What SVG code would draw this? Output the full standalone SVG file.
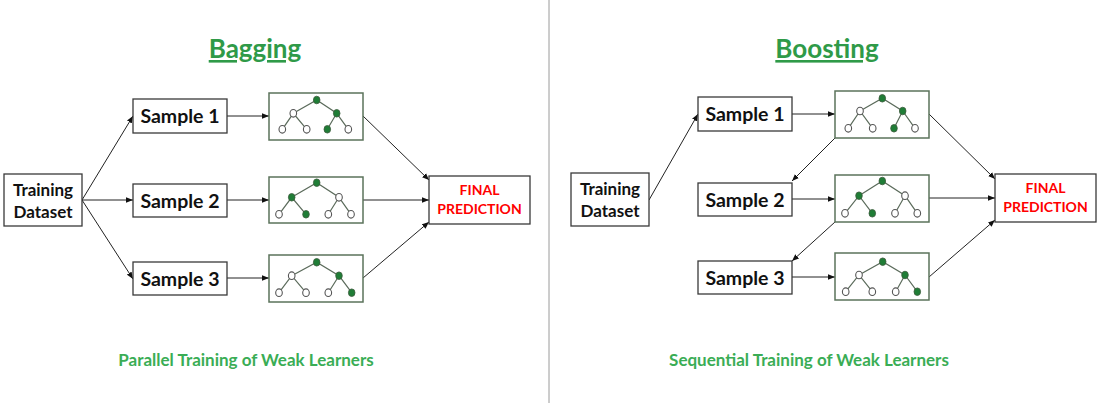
<svg xmlns="http://www.w3.org/2000/svg" width="1100" height="403" viewBox="0 0 1100 403">
<style>
.box{fill:#fff;stroke:#3a3a3a;stroke-width:1.3}
.tbox{fill:#fff;stroke:#5b735b;stroke-width:1.5}
.lbl{font-family:Lato,"Open Sans",sans-serif;font-weight:bold;fill:#111;text-anchor:middle}
.title{font-family:Lato,"Open Sans",sans-serif;font-weight:bold;fill:#2f9a48;font-size:26px;text-anchor:middle;text-decoration:underline}
.sub{font-family:Lato,"Open Sans",sans-serif;font-weight:bold;fill:#3aad55;font-size:17px;text-anchor:middle}
.fin{font-family:Lato,"Open Sans",sans-serif;font-weight:bold;fill:#ff0000;font-size:14px;text-anchor:middle}
.edge{stroke:#222;stroke-width:1;fill:none;marker-end:url(#ah)}
.tl{stroke:#5b6b5b;stroke-width:1.2;fill:none}
.g{fill:#1f7d36;stroke:#3c5a3c;stroke-width:0.8}
.w{fill:#fff;stroke:#555;stroke-width:1.1}
</style>
<defs>
<marker id="ah" viewBox="0 0 10 10" refX="10" refY="5" markerWidth="7" markerHeight="7" orient="auto" markerUnits="userSpaceOnUse">
<path d="M0,1 L10,5 L0,9 z" fill="#111"/>
</marker>
</defs>
<rect width="1100" height="403" fill="#fff"/>
<line x1="549" y1="0" x2="549" y2="403" stroke="#9a9a9a" stroke-width="1"/>

<g id="titles">
<text class="title" x="255" y="58">Bagging</text>
<text class="title" x="827" y="58">Boosting</text>
<text class="sub" x="246" y="366">Parallel Training of Weak Learners</text>
<text class="sub" x="809" y="366">Sequential Training of Weak Learners</text>
</g>

<g id="connectors">
<line class="edge" x1="82" y1="200" x2="133" y2="116"/>
<line class="edge" x1="82" y1="200" x2="133" y2="200"/>
<line class="edge" x1="82" y1="200" x2="133" y2="279"/>
<line class="edge" x1="227" y1="116" x2="269" y2="116"/>
<line class="edge" x1="227" y1="200" x2="269" y2="200"/>
<line class="edge" x1="227" y1="278" x2="269" y2="278"/>
<line class="edge" x1="363" y1="116" x2="429" y2="180"/>
<line class="edge" x1="363" y1="200" x2="429" y2="200"/>
<line class="edge" x1="363" y1="278" x2="429" y2="222"/>

<line class="edge" x1="649" y1="200" x2="698" y2="114"/>
<line class="edge" x1="792" y1="114" x2="835" y2="114"/>
<line class="edge" x1="792" y1="199" x2="835" y2="199"/>
<line class="edge" x1="792" y1="277" x2="835" y2="277"/>
<line class="edge" x1="835" y1="138" x2="792" y2="181"/>
<line class="edge" x1="835" y1="222" x2="792" y2="261"/>
<line class="edge" x1="929" y1="114" x2="995" y2="179"/>
<line class="edge" x1="929" y1="198" x2="995" y2="198"/>
<line class="edge" x1="929" y1="277" x2="995" y2="220"/>
</g>

<g id="bag-training">
<rect class="box" x="4" y="174" width="78" height="52"/>
<text class="lbl" x="43" y="196" font-size="17">Training</text>
<text class="lbl" x="43" y="218" font-size="17">Dataset</text>
</g>
<g id="bag-sample1"><rect class="box" x="133" y="99" width="94" height="34"/><text class="lbl" x="180" y="123" font-size="19.5">Sample 1</text></g>
<g id="bag-sample2"><rect class="box" x="133" y="184" width="94" height="33"/><text class="lbl" x="180" y="207.5" font-size="19.5">Sample 2</text></g>
<g id="bag-sample3"><rect class="box" x="133" y="262" width="94" height="33"/><text class="lbl" x="180" y="285.5" font-size="19.5">Sample 3</text></g>

<g id="bag-tree1">
<rect class="tbox" x="269" y="93" width="94" height="47"/>
<path class="tl" d="M282.3,129.3 L293.3,113.3 L306.7,129.3 M293.3,113.3 L316.7,100 L336.7,113.3 L327.3,129.3 M336.7,113.3 L348.3,129.3"/>
<ellipse class="g" cx="316.7" cy="100" rx="3.3" ry="3.8"/>
<ellipse class="w" cx="293.3" cy="113.3" rx="3.3" ry="3.8"/>
<ellipse class="g" cx="336.7" cy="113.3" rx="3.3" ry="3.8"/>
<ellipse class="w" cx="282.3" cy="129.3" rx="3.3" ry="3.8"/>
<ellipse class="w" cx="306.7" cy="129.3" rx="3.3" ry="3.8"/>
<ellipse class="g" cx="327.3" cy="129.3" rx="3.3" ry="3.8"/>
<ellipse class="w" cx="348.3" cy="129.3" rx="3.3" ry="3.8"/>
</g>
<g id="bag-tree2">
<rect class="tbox" x="269" y="177" width="94" height="46"/>
<path class="tl" d="M279,214.3 L291.7,197.3 L306,214.3 M291.7,197.3 L316.7,182.7 L339,197.3 L328.3,214.3 M339,197.3 L351,214.3"/>
<ellipse class="g" cx="316.7" cy="182.7" rx="3.3" ry="3.8"/>
<ellipse class="g" cx="291.7" cy="197.3" rx="3.3" ry="3.8"/>
<ellipse class="w" cx="339" cy="197.3" rx="3.3" ry="3.8"/>
<ellipse class="w" cx="279" cy="214.3" rx="3.3" ry="3.8"/>
<ellipse class="g" cx="306" cy="214.3" rx="3.3" ry="3.8"/>
<ellipse class="w" cx="328.3" cy="214.3" rx="3.3" ry="3.8"/>
<ellipse class="w" cx="351" cy="214.3" rx="3.3" ry="3.8"/>
</g>
<g id="bag-tree3">
<rect class="tbox" x="269" y="255" width="94" height="47"/>
<path class="tl" d="M279,292.7 L291.7,275.7 L306,292.7 M291.7,275.7 L316.7,262.3 L339,275.7 L328.3,292.7 M339,275.7 L351.7,292.7"/>
<ellipse class="g" cx="316.7" cy="262.3" rx="3.3" ry="3.8"/>
<ellipse class="w" cx="291.7" cy="275.7" rx="3.3" ry="3.8"/>
<ellipse class="g" cx="339" cy="275.7" rx="3.3" ry="3.8"/>
<ellipse class="w" cx="279" cy="292.7" rx="3.3" ry="3.8"/>
<ellipse class="w" cx="306" cy="292.7" rx="3.3" ry="3.8"/>
<ellipse class="w" cx="328.3" cy="292.7" rx="3.3" ry="3.8"/>
<ellipse class="g" cx="351.7" cy="292.7" rx="3.3" ry="3.8"/>
</g>
<g id="bag-final">
<rect class="box" x="429" y="176" width="101" height="48"/>
<text class="fin" x="479.5" y="195">FINAL</text>
<text class="fin" x="479.5" y="214">PREDICTION</text>
</g>

<g id="boost-training">
<rect class="box" x="571" y="173" width="78" height="53"/>
<text class="lbl" x="610" y="195" font-size="17">Training</text>
<text class="lbl" x="610" y="217" font-size="17">Dataset</text>
</g>
<g id="boost-sample1"><rect class="box" x="698" y="97" width="94" height="34"/><text class="lbl" x="745" y="121" font-size="19.5">Sample 1</text></g>
<g id="boost-sample2"><rect class="box" x="698" y="183" width="94" height="33"/><text class="lbl" x="745" y="206.5" font-size="19.5">Sample 2</text></g>
<g id="boost-sample3"><rect class="box" x="698" y="261" width="94" height="33"/><text class="lbl" x="745" y="284.5" font-size="19.5">Sample 3</text></g>

<g id="boost-tree1">
<rect class="tbox" x="835" y="91" width="94" height="47"/>
<path class="tl" d="M848.3,128.3 L860,111 L872.7,128.3 M860,111 L882.3,98.3 L902.7,111 L894,128.3 M902.7,111 L915,128.3"/>
<ellipse class="g" cx="882.3" cy="98.3" rx="3.3" ry="3.8"/>
<ellipse class="w" cx="860" cy="111" rx="3.3" ry="3.8"/>
<ellipse class="g" cx="902.7" cy="111" rx="3.3" ry="3.8"/>
<ellipse class="w" cx="848.3" cy="128.3" rx="3.3" ry="3.8"/>
<ellipse class="w" cx="872.7" cy="128.3" rx="3.3" ry="3.8"/>
<ellipse class="g" cx="894" cy="128.3" rx="3.3" ry="3.8"/>
<ellipse class="w" cx="915" cy="128.3" rx="3.3" ry="3.8"/>
</g>
<g id="boost-tree2">
<rect class="tbox" x="835" y="175" width="94" height="47"/>
<path class="tl" d="M845,213.3 L859,195.7 L872.3,213.3 M859,195.7 L882.3,181 L905,195.7 L895,213.3 M905,195.7 L917.3,213.3"/>
<ellipse class="g" cx="882.3" cy="181" rx="3.3" ry="3.8"/>
<ellipse class="g" cx="859" cy="195.7" rx="3.3" ry="3.8"/>
<ellipse class="w" cx="905" cy="195.7" rx="3.3" ry="3.8"/>
<ellipse class="w" cx="845" cy="213.3" rx="3.3" ry="3.8"/>
<ellipse class="g" cx="872.3" cy="213.3" rx="3.3" ry="3.8"/>
<ellipse class="w" cx="895" cy="213.3" rx="3.3" ry="3.8"/>
<ellipse class="w" cx="917.3" cy="213.3" rx="3.3" ry="3.8"/>
</g>
<g id="boost-tree3">
<rect class="tbox" x="835" y="253" width="94" height="47"/>
<path class="tl" d="M845.7,291.7 L859,275 L872.3,291.7 M859,275 L882.7,261.7 L905,275 L895.7,291.7 M905,275 L917.3,291.7"/>
<ellipse class="g" cx="882.7" cy="261.7" rx="3.3" ry="3.8"/>
<ellipse class="w" cx="859" cy="275" rx="3.3" ry="3.8"/>
<ellipse class="g" cx="905" cy="275" rx="3.3" ry="3.8"/>
<ellipse class="w" cx="845.7" cy="291.7" rx="3.3" ry="3.8"/>
<ellipse class="w" cx="872.3" cy="291.7" rx="3.3" ry="3.8"/>
<ellipse class="w" cx="895.7" cy="291.7" rx="3.3" ry="3.8"/>
<ellipse class="g" cx="917.3" cy="291.7" rx="3.3" ry="3.8"/>
</g>
<g id="boost-final">
<rect class="box" x="995" y="174" width="101" height="48"/>
<text class="fin" x="1045.5" y="193">FINAL</text>
<text class="fin" x="1045.5" y="212">PREDICTION</text>
</g>
</svg>
